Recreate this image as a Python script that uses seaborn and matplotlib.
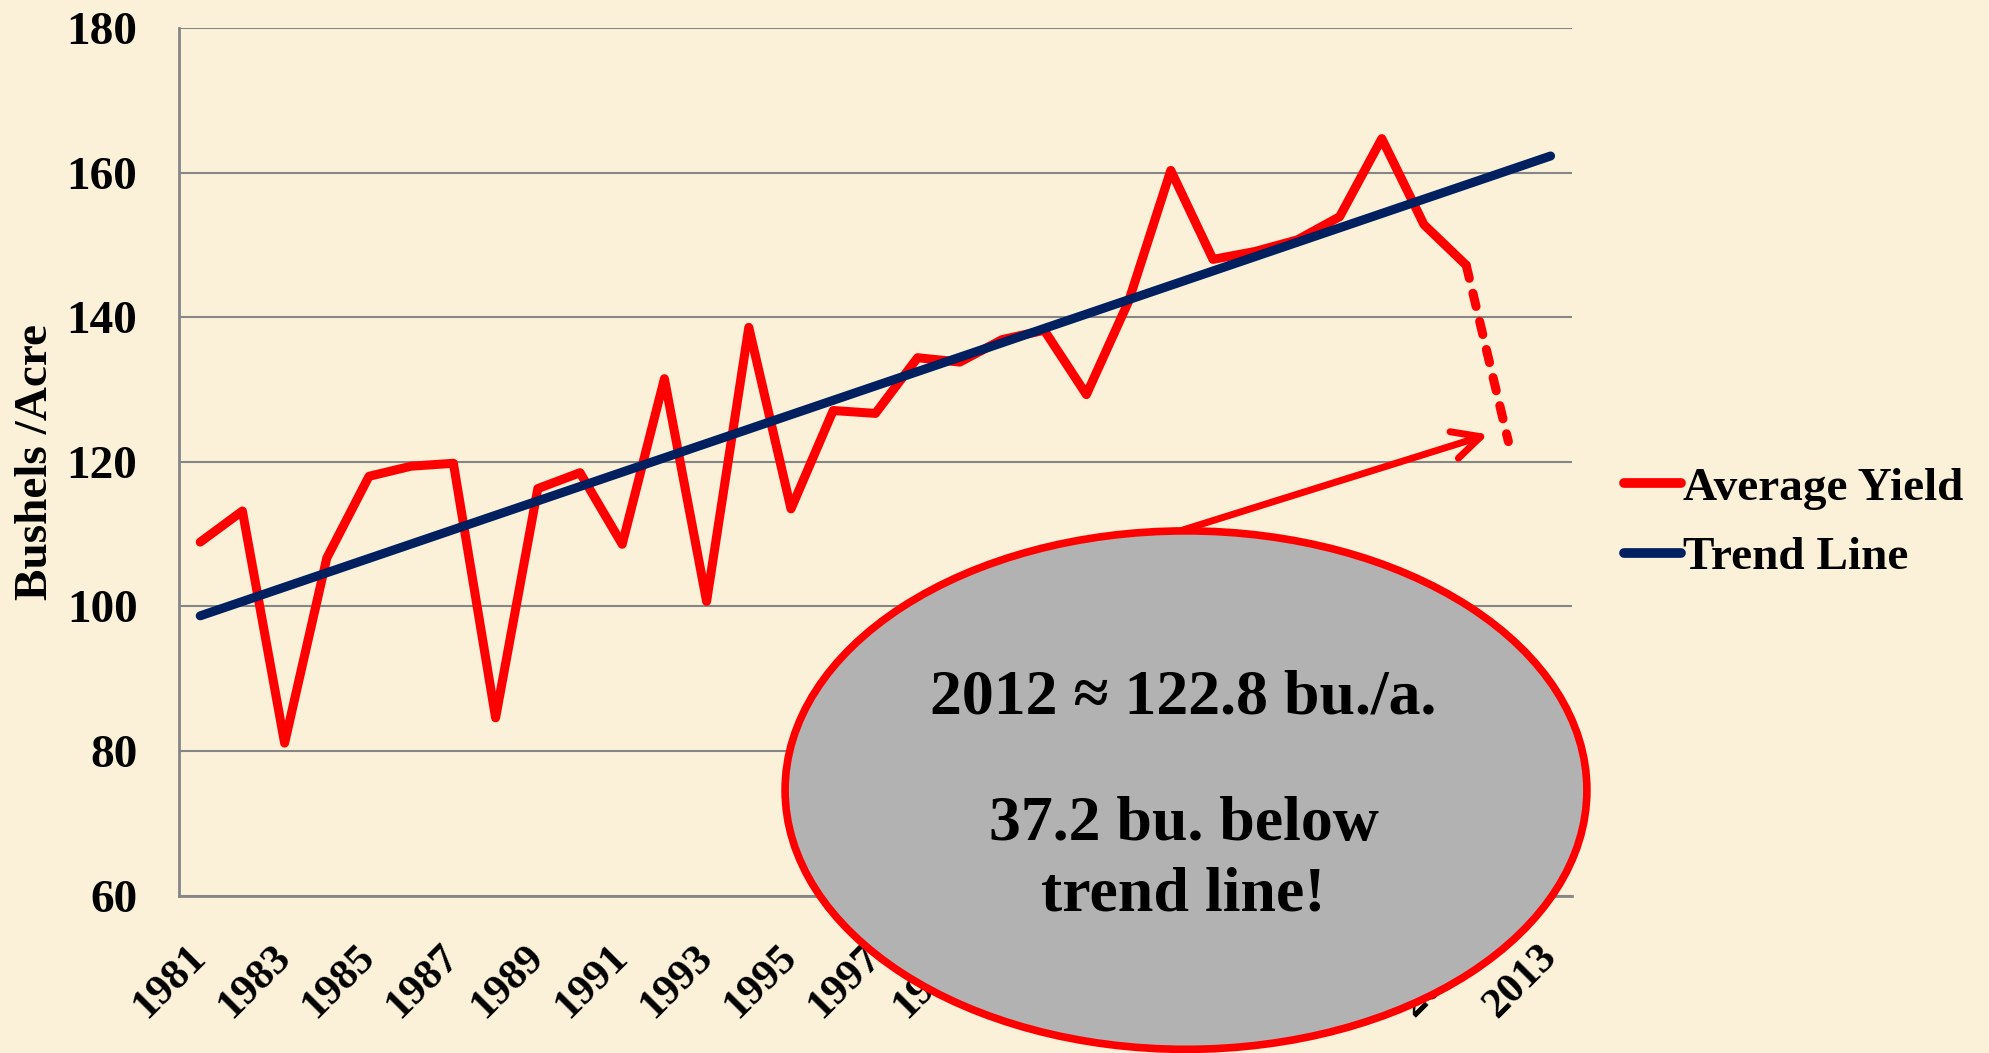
import numpy as np
import pandas as pd
import seaborn as sns
import matplotlib.pyplot as plt
from matplotlib.patches import Ellipse
from matplotlib.lines import Line2D

sns.set_style("white")
plt.rcParams['font.family'] = ['Liberation Serif', 'DejaVu Serif']
plt.rcParams['font.weight'] = 'bold'
plt.rcParams['text.color'] = 'black'
plt.rcParams['axes.labelcolor'] = 'black'

# US average corn yield, bushels per acre
years = list(range(1981, 2013))
yields = [108.9, 113.2, 81.1, 106.7, 118.0, 119.4, 119.8, 84.6, 116.3, 118.5,
          108.6, 131.5, 100.7, 138.6, 113.5, 127.1, 126.7, 134.4, 133.8, 136.9,
          138.2, 129.3, 142.2, 160.3, 148.0, 149.1, 150.7, 153.9, 164.7, 152.8,
          147.2, 122.8]
# trend line end points
trend_years = [1981, 2013]
trend_vals = [98.7, 162.3]
year_labels = [str(y) for y in range(1981, 2014, 2)]

red = '#FF0000'
navy = '#002060'
gray = '#868686'

solid = pd.DataFrame({'Year': years[:-1], 'Bushels': yields[:-1], 'Series': 'Average Yield'})
trend = pd.DataFrame({'Year': trend_years, 'Bushels': trend_vals, 'Series': 'Trend Line'})
df = pd.concat([solid, trend], ignore_index=True)

fig = plt.figure(figsize=(19.9, 10.53), dpi=100)
fig.patch.set_facecolor('#FBF1D9')
ax = fig.add_axes([0.0900, 0.1494, 0.6998, 0.8240])
ax.set_facecolor('none')

sns.lineplot(data=df, x='Year', y='Bushels', hue='Series',
             palette={'Average Yield': red, 'Trend Line': navy},
             linewidth=6.5, estimator=None, sort=False, legend=False, ax=ax,
             solid_capstyle='round')
# 2012 drop, dashed
sns.lineplot(x=years[-2:], y=yields[-2:], color=red, linewidth=6.5, ax=ax,
             linestyle=(0, (1.5, 1.7)), dash_capstyle='round', zorder=1.5)

ax.set_xlim(1980.5, 2013.5)
ax.set_ylim(60, 180)
ax.set_yticks(range(60, 181, 20))
ax.set_xticks(np.arange(1980.5, 2014, 1))
ax.set_xticklabels([])
ax.set_xticks(range(1981, 2014, 2), minor=True)
ax.set_xticklabels(year_labels, minor=True, rotation=45, ha='right', va='center',
                   rotation_mode='anchor', fontsize=31, fontweight='bold')
ax.tick_params(axis='x', which='major', length=10, width=1.5, color=gray, direction='out')
ax.tick_params(axis='x', which='minor', length=0, pad=40, labelcolor='black')
ax.tick_params(axis='y', length=10, width=1.5, color=gray, direction='out',
               labelsize=34, pad=20, labelcolor='black')
for lab in ax.get_yticklabels():
    lab.set_fontweight('bold')

ax.yaxis.grid(True, color=gray, linewidth=1.5)
ax.xaxis.grid(False)
for side in ['top', 'right']:
    ax.spines[side].set_visible(False)
for side in ['left', 'bottom']:
    ax.spines[side].set_color(gray)
    ax.spines[side].set_linewidth(2)

ax.set_xlabel('')
ax.set_ylabel('Bushels /Acre', fontsize=34, fontweight='bold', color='black')
ax.yaxis.set_label_coords(-0.088, 0.5)

handles = [Line2D([], [], color=red, lw=7, solid_capstyle='round'),
           Line2D([], [], color=navy, lw=7, solid_capstyle='round')]
leg = ax.legend(handles, ['Average Yield', 'Trend Line'], loc='center left',
                bbox_to_anchor=(1624 / 1990, 1 - 523 / 1053), bbox_transform=fig.transFigure,
                frameon=False, handlelength=1.2, handletextpad=0.05,
                borderpad=0, borderaxespad=0, labelspacing=0.56,
                prop={'weight': 'bold', 'size': 34})
for t in leg.get_texts():
    t.set_color('black')

# callout
ax.annotate('', xy=(2011.52, 123.8), xytext=(2004.3, 110.6),
            arrowprops=dict(arrowstyle='->,head_length=1.0,head_width=0.5',
                            color=red, lw=5, mutation_scale=20,
                            shrinkA=0, shrinkB=0),
            zorder=9)
ell = Ellipse((2004.36, 74.6), 19.0, 71.7, facecolor='#B2B2B2', edgecolor=red,
              linewidth=5.5, clip_on=False, zorder=10)
ax.add_patch(ell)
ax.text(2004.3, 87.3, '2012 ≈ 122.8 bu./a.', ha='center', va='center', color='black',
        fontsize=46, fontweight='bold', zorder=11, clip_on=False)
ax.text(2004.3, 64.9, '37.2 bu. below\ntrend line!', ha='center', va='center', color='black',
        fontsize=46, fontweight='bold', zorder=11, clip_on=False, linespacing=1.3)

fig.savefig('out.png', dpi=100, facecolor=fig.get_facecolor())
